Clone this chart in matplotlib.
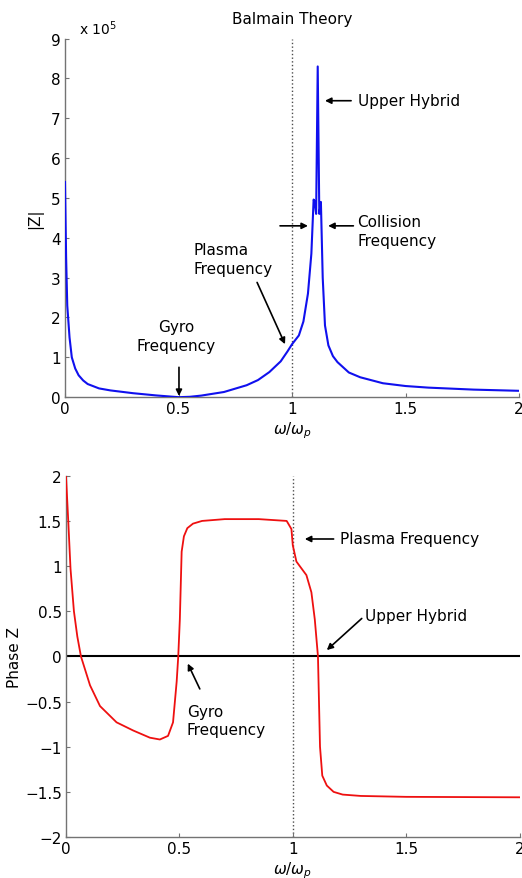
import matplotlib
matplotlib.use('Agg')
import matplotlib.pyplot as plt
import numpy as np

# |Z| (in units of 1e5) vs normalised frequency
freq_top = [0, 0.005, 0.01, 0.02, 0.03, 0.045, 0.06, 0.08, 0.1, 0.15, 0.2, 0.3, 0.4, 0.5,
            0.55, 0.6, 0.7, 0.8, 0.85, 0.9, 0.95, 0.98, 1.0, 1.03, 1.05, 1.07, 1.085,
            1.095, 1.10, 1.106, 1.113, 1.12, 1.127, 1.135, 1.145, 1.16, 1.18, 1.2,
            1.25, 1.3, 1.4, 1.5, 1.6, 1.8, 2.0]
abs_z = [5.4, 3.5, 2.3, 1.5, 1.0, 0.72, 0.55, 0.42, 0.33, 0.22, 0.17, 0.1, 0.045, 0.0,
         0.01, 0.04, 0.13, 0.3, 0.43, 0.63, 0.9, 1.15, 1.33, 1.55, 1.9, 2.6, 3.6,
         4.96, 4.9, 4.6, 8.3, 4.6, 4.9, 3.0, 1.8, 1.3, 1.03, 0.88,
         0.62, 0.5, 0.35, 0.28, 0.24, 0.19, 0.16]

# phase of Z vs normalised frequency
freq_ph = [0, 0.01, 0.02, 0.035, 0.05, 0.066, 0.106, 0.15, 0.223, 0.296, 0.37, 0.414,
           0.45, 0.472, 0.488, 0.495, 0.502, 0.51, 0.52, 0.535, 0.56, 0.6, 0.7, 0.85,
           0.973, 0.994, 1.0, 1.016, 1.06, 1.082, 1.097, 1.111, 1.12, 1.13, 1.15,
           1.18, 1.22, 1.3, 1.5, 2.0]
phase_z = [2.0, 1.5, 0.97, 0.5, 0.22, 0.0, -0.32, -0.55, -0.73, -0.82, -0.9, -0.92,
           -0.88, -0.73, -0.28, 0.0, 0.41, 1.16, 1.33, 1.42, 1.47, 1.5, 1.52, 1.52,
           1.50, 1.41, 1.23, 1.05, 0.9, 0.71, 0.41, 0.0, -1.0, -1.32, -1.43,
           -1.5, -1.53, -1.545, -1.555, -1.56]

x_ticks = [0, 0.5, 1, 1.5, 2]
x_ticklabels = ['0', '0.5', '1', '1.5', '2']

plt.rcParams['font.family'] = 'DejaVu Sans'
plt.rcParams['font.size'] = 11

fig = plt.figure(figsize=(5.22, 8.79), dpi=100)
ax1 = fig.add_axes([0.1245, 0.547, 0.87, 0.408])
ax2 = fig.add_axes([0.1264, 0.0466, 0.869, 0.411])

spine_col = '0.45'


def style(ax):
    for s in ['top', 'right']:
        ax.spines[s].set_visible(False)
    for s in ['left', 'bottom']:
        ax.spines[s].set_color(spine_col)
        ax.spines[s].set_linewidth(1.0)
    ax.tick_params(direction='in', length=3, color=spine_col, labelsize=11, pad=3)
    ax.set_xlim(0, 2)
    ax.set_xticks(x_ticks)
    ax.set_xticklabels(x_ticklabels)
    ax.axvline(1, color='0.3', ls=':', lw=1.0, zorder=1)


arrow = dict(arrowstyle='-|>', color='k', lw=1.2, mutation_scale=9, shrinkA=0, shrinkB=0)

# --- top: magnitude ---
style(ax1)
ax1.plot(freq_top, abs_z, color='#1010ee', lw=1.5, zorder=3)
ax1.set_ylim(0, 9)
ax1.set_yticks(range(10))
ax1.set_title('Balmain Theory', fontsize=11, pad=11)
ax1.text(0.03, 1.005, r'x 10$^5$', transform=ax1.transAxes, fontsize=10, va='bottom')
ax1.set_ylabel('|Z|', labelpad=6)
ax1.set_xlabel(r'$\omega/\omega_p$', labelpad=2)

ax1.annotate('', xy=(1.145, 7.44), xytext=(1.26, 7.44), arrowprops=arrow)
ax1.text(1.29, 7.44, 'Upper Hybrid', va='center', ha='left')
ax1.annotate('', xy=(1.159, 4.3), xytext=(1.27, 4.3), arrowprops=arrow)
ax1.annotate('', xy=(1.07, 4.3), xytext=(0.947, 4.3), arrowprops=arrow)
ax1.text(1.286, 4.17, 'Collision\nFrequency', va='center', ha='left', linespacing=1.4)
ax1.annotate('', xy=(0.969, 1.33), xytext=(0.846, 2.88), arrowprops=arrow)
ax1.text(0.564, 3.47, 'Plasma\nFrequency', va='center', ha='left', linespacing=1.3)
ax1.annotate('', xy=(0.502, 0.03), xytext=(0.502, 0.75), arrowprops=arrow)
ax1.text(0.489, 1.54, 'Gyro\nFrequency', va='center', ha='center', linespacing=1.3)

# --- bottom: phase ---
style(ax2)
ax2.axhline(0, color='k', lw=1.5, zorder=2)
ax2.plot(freq_ph, phase_z, color='#ee1010', lw=1.3, zorder=3)
ax2.set_ylim(-2, 2)
ax2.set_yticks(np.arange(-2, 2.01, 0.5))
ax2.set_yticklabels(['\u22122', '\u22121.5', '\u22121', '\u22120.5', '0', '0.5', '1', '1.5', '2'])
ax2.set_ylabel('Phase Z', labelpad=2)
ax2.set_xlabel(r'$\omega/\omega_p$', labelpad=2)

ax2.annotate('', xy=(1.053, 1.30), xytext=(1.18, 1.30), arrowprops=arrow)
ax2.text(1.207, 1.30, 'Plasma Frequency', va='center', ha='left')
ax2.annotate('', xy=(1.15, 0.07), xytext=(1.304, 0.42), arrowprops=arrow)
ax2.text(1.317, 0.45, 'Upper Hybrid', va='center', ha='left')
ax2.annotate('', xy=(0.537, -0.08), xytext=(0.59, -0.36), arrowprops=arrow)
ax2.text(0.533, -0.71, 'Gyro\nFrequency', va='center', ha='left', linespacing=1.3)

fig.savefig('out.png', dpi=100)
